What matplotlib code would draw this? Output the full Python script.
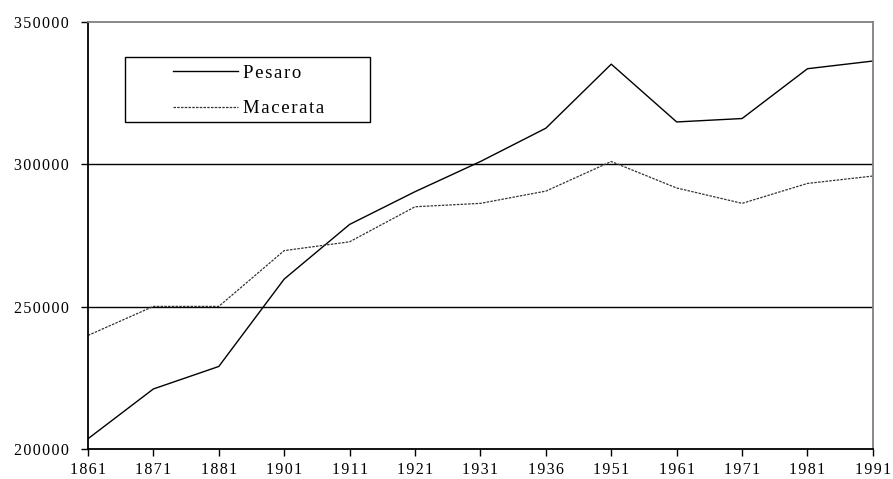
import matplotlib.pyplot as plt
from matplotlib.patches import Rectangle

years = ['1861', '1871', '1881', '1901', '1911', '1921', '1931',
         '1936', '1951', '1961', '1971', '1981', '1991']
pesaro = [203600, 221100, 229000, 259700, 278900, 290400, 301000,
          312700, 335200, 314900, 316100, 333600, 336300]
macerata = [239900, 250100, 250100, 269700, 272800, 285100, 286300,
            290600, 301000, 291700, 286300, 293300, 295900]
yticks = [200000, 250000, 300000, 350000]


def spaced(s):
    # the reference text is slightly letter-spaced
    return '\u200a'.join(s)


plt.rcParams['font.family'] = 'Liberation Serif'

fig = plt.figure(figsize=(8.93, 4.79), dpi=100)
ax = fig.add_axes([0.0985, 0.0626, 0.879, 0.8914])

x = list(range(len(years)))
ax.plot(x, pesaro, color='black', lw=1.0, label=spaced('Pesaro'))
ax.plot(x, macerata, color='#333333', lw=0.9, linestyle=(0, (2, 1)),
        label=spaced('Macerata'))

ax.set_xlim(0, len(years) - 1)
ax.set_ylim(200000, 350000)
ax.set_xticks(x)
ax.set_xticklabels([spaced(y) for y in years])
ax.set_yticks(yticks)
ax.set_yticklabels([spaced(str(v)) for v in yticks])

for v in yticks[1:3]:
    ax.axhline(v, color='black', lw=1.0, zorder=1)

ax.spines['left'].set_color('black')
ax.spines['bottom'].set_color('black')
ax.spines['top'].set_color('#808080')
ax.spines['right'].set_color('#808080')
for s in ax.spines.values():
    s.set_linewidth(1.3)
ax.tick_params(direction='out', length=5, width=1, labelsize=11.5, colors='black')
ax.tick_params(axis='y', pad=9)
ax.tick_params(axis='x', pad=4.5)

# legend box
ax.add_patch(Rectangle((0.047, 0.765), 0.312, 0.154, transform=ax.transAxes,
                       fill=False, edgecolor='black', lw=1.0, zorder=5))
ax.legend(loc='upper left', bbox_to_anchor=(0.108, 0.90), frameon=False,
          fontsize=13.5, handlelength=3.5, handletextpad=0.25, borderaxespad=0,
          borderpad=0, labelspacing=0.97)

fig.savefig('out.png', dpi=100)
